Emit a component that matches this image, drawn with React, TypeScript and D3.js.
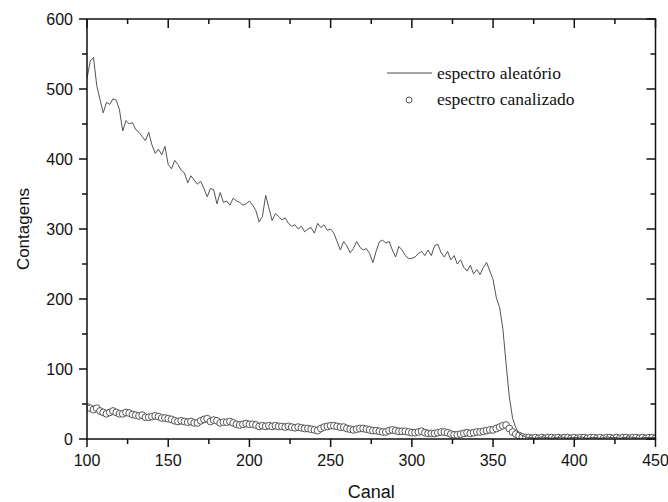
import React from "react";
import * as d3 from "d3";

// Channels sampled every 2 units from 100 to 450
const channelStart = 100;
const channelStep = 2;

const randomSpectrum: number[] = [
  515, 540, 545, 505, 485, 466, 481, 478, 486, 484,
  470, 440, 455, 450, 452, 442, 438, 432, 426, 438,
  420, 408, 414, 406, 418, 392, 386, 398, 392, 384,
  380, 366, 376, 370, 364, 368, 358, 346, 358, 356,
  336, 352, 338, 340, 334, 344, 340, 338, 334, 336,
  340, 334, 326, 310, 318, 348, 330, 312, 322, 318,
  313, 316, 308, 304, 306, 300, 304, 296, 300, 302,
  294, 308, 302, 306, 298, 300, 294, 282, 270, 282,
  276, 266, 272, 282, 274, 270, 272, 265, 252, 268,
  282, 284, 280, 282, 270, 260, 275, 270, 262, 258,
  258, 260, 265, 268, 262, 270, 262, 276, 278, 266,
  260, 268, 256, 262, 250, 256, 245, 240, 248, 236,
  242, 235, 245, 252, 240, 228, 202, 188, 158, 108,
  60, 30, 16, 8, 5, 3, 2, 2, 1, 2,
  3, 2, 2, 1, 2, 2, 3, 2, 1, 2,
  2, 2, 3, 2, 1, 2, 2, 2, 1, 2,
  3, 2, 2, 2, 1, 2, 2, 3, 2, 2,
  1, 2, 2, 2, 2, 2,
];

const channeledSpectrum: number[] = [
  46, 44, 42, 44, 40, 38, 36, 38, 40, 38,
  36, 36, 38, 37, 35, 34, 33, 34, 31, 31,
  32, 33, 32, 30, 30, 29, 28, 26, 25, 26,
  25, 24, 25, 23, 23, 26, 28, 29, 25, 27,
  26, 23, 24, 24, 25, 23, 21, 20, 21, 22,
  21, 21, 20, 18, 19, 18, 19, 18, 19, 18,
  18, 17, 18, 17, 16, 17, 16, 15, 15, 14,
  13, 12, 15, 17, 18, 19, 19, 18, 17, 17,
  15, 14, 13, 14, 15, 15, 14, 13, 12, 12,
  11, 10, 10, 12, 13, 12, 11, 11, 11, 10,
  9, 9, 10, 11, 9, 8, 8, 8, 9, 10,
  10, 9, 7, 6, 6, 7, 8, 9, 8, 9,
  10, 10, 11, 12, 13, 13, 15, 17, 19, 20,
  15, 10, 7, 5, 3, 2, 2, 1, 2, 1,
  2, 1, 2, 2, 1, 2, 1, 2, 2, 1,
  2, 1, 2, 2, 1, 2, 2, 1, 2, 1,
  2, 2, 1, 2, 1, 2, 2, 1, 2, 2,
  1, 2, 1, 2, 2, 1,
];

const xTicks = [100, 150, 200, 250, 300, 350, 400, 450];
const xMinorTicks = [125, 175, 225, 275, 325, 375, 425];
const yTicks = [0, 100, 200, 300, 400, 500, 600];
const yMinorTicks = [50, 150, 250, 350, 450, 550];

const xLabel = "Canal";
const yLabel = "Contagens";
const legendLabels = ["espectro aleatório", "espectro canalizado"];

const W = 668;
const H = 502;
const left = 87;
const right = 655.5;
const top = 19;
const bottom = 439;

export default function App() {
  const x = d3.scaleLinear().domain([100, 450]).range([left, right]);
  const y = d3.scaleLinear().domain([0, 600]).range([bottom, top]);

  const rand = randomSpectrum.map((v, i) => [channelStart + i * channelStep, v] as [number, number]);
  const chan = channeledSpectrum.map((v, i) => [channelStart + i * channelStep, v] as [number, number]);

  const line = d3
    .line<[number, number]>()
    .x((d) => x(d[0]))
    .y((d) => y(d[1]));

  const sans = "'Liberation Sans', Arial, sans-serif";
  const serif = "'Liberation Serif', 'Times New Roman', serif";
  const axisColor = "#111";
  const markColor = "#555";

  return (
    <svg
      width={W}
      height={H}
      style={{ position: "absolute", left: 0, top: 0, background: "#fff" }}
    >
      <defs>
        <clipPath id="plotclip">
          <rect x={left} y={top} width={right - left} height={bottom - top} />
        </clipPath>
      </defs>
      <rect x={0} y={0} width={W} height={H} fill="#fff" />

      <g clipPath="url(#plotclip)">
        {chan.map((d, i) => (
          <circle
            key={i}
            cx={x(d[0])}
            cy={y(d[1])}
            r={3.4}
            fill="#fff"
            stroke={markColor}
            strokeWidth={1}
          />
        ))}
        <path d={line(rand) || ""} fill="none" stroke="#4a4a4a" strokeWidth={0.95} />
      </g>

      {/* frame */}
      <rect
        x={left}
        y={top}
        width={right - left}
        height={bottom - top}
        fill="none"
        stroke={axisColor}
        strokeWidth={1.5}
      />

      {/* x ticks: bottom outward, top inward */}
      {xTicks.map((t) => (
        <g key={"xt" + t}>
          <line x1={x(t)} x2={x(t)} y1={bottom} y2={bottom + 8} stroke={axisColor} strokeWidth={1.5} />
          <line x1={x(t)} x2={x(t)} y1={top} y2={top + 9} stroke={axisColor} strokeWidth={1.5} />
          <text
            x={x(t)}
            y={bottom + 27}
            textAnchor="middle"
            fontFamily={sans}
            fontSize={16}
            fill="#111"
          >
            {t}
          </text>
        </g>
      ))}
      {xMinorTicks.map((t) => (
        <g key={"xm" + t}>
          <line x1={x(t)} x2={x(t)} y1={bottom} y2={bottom + 5} stroke={axisColor} strokeWidth={1.5} />
          <line x1={x(t)} x2={x(t)} y1={top} y2={top + 5} stroke={axisColor} strokeWidth={1.5} />
        </g>
      ))}

      {/* y ticks: left outward, right inward */}
      {yTicks.map((t) => (
        <g key={"yt" + t}>
          <line x1={left - 8} x2={left} y1={y(t)} y2={y(t)} stroke={axisColor} strokeWidth={1.5} />
          <line x1={right - 9} x2={right} y1={y(t)} y2={y(t)} stroke={axisColor} strokeWidth={1.5} />
          <text
            x={left - 14}
            y={y(t) + 5.5}
            textAnchor="end"
            fontFamily={sans}
            fontSize={16}
            fill="#111"
          >
            {t}
          </text>
        </g>
      ))}
      {yMinorTicks.map((t) => (
        <g key={"ym" + t}>
          <line x1={left - 5} x2={left} y1={y(t)} y2={y(t)} stroke={axisColor} strokeWidth={1.5} />
          <line x1={right - 5} x2={right} y1={y(t)} y2={y(t)} stroke={axisColor} strokeWidth={1.5} />
        </g>
      ))}

      {/* axis titles */}
      <text
        x={(left + right) / 2}
        y={498}
        textAnchor="middle"
        fontFamily={sans}
        fontSize={18}
        fill="#111"
      >
        {xLabel}
      </text>
      <text
        transform={`translate(29, ${(top + bottom) / 2}) rotate(-90)`}
        textAnchor="middle"
        fontFamily={sans}
        fontSize={17}
        fill="#111"
      >
        {yLabel}
      </text>

      {/* legend */}
      <line x1={387} x2={432} y1={73} y2={73} stroke="#4a4a4a" strokeWidth={1} />
      <text x={437} y={79} fontFamily={serif} fontSize={17.5} fill="#111">
        {legendLabels[0]}
      </text>
      <circle cx={409} cy={100} r={3} fill="#fff" stroke={markColor} strokeWidth={1} />
      <text x={437} y={105} fontFamily={serif} fontSize={17.5} fill="#111">
        {legendLabels[1]}
      </text>
    </svg>
  );
}
